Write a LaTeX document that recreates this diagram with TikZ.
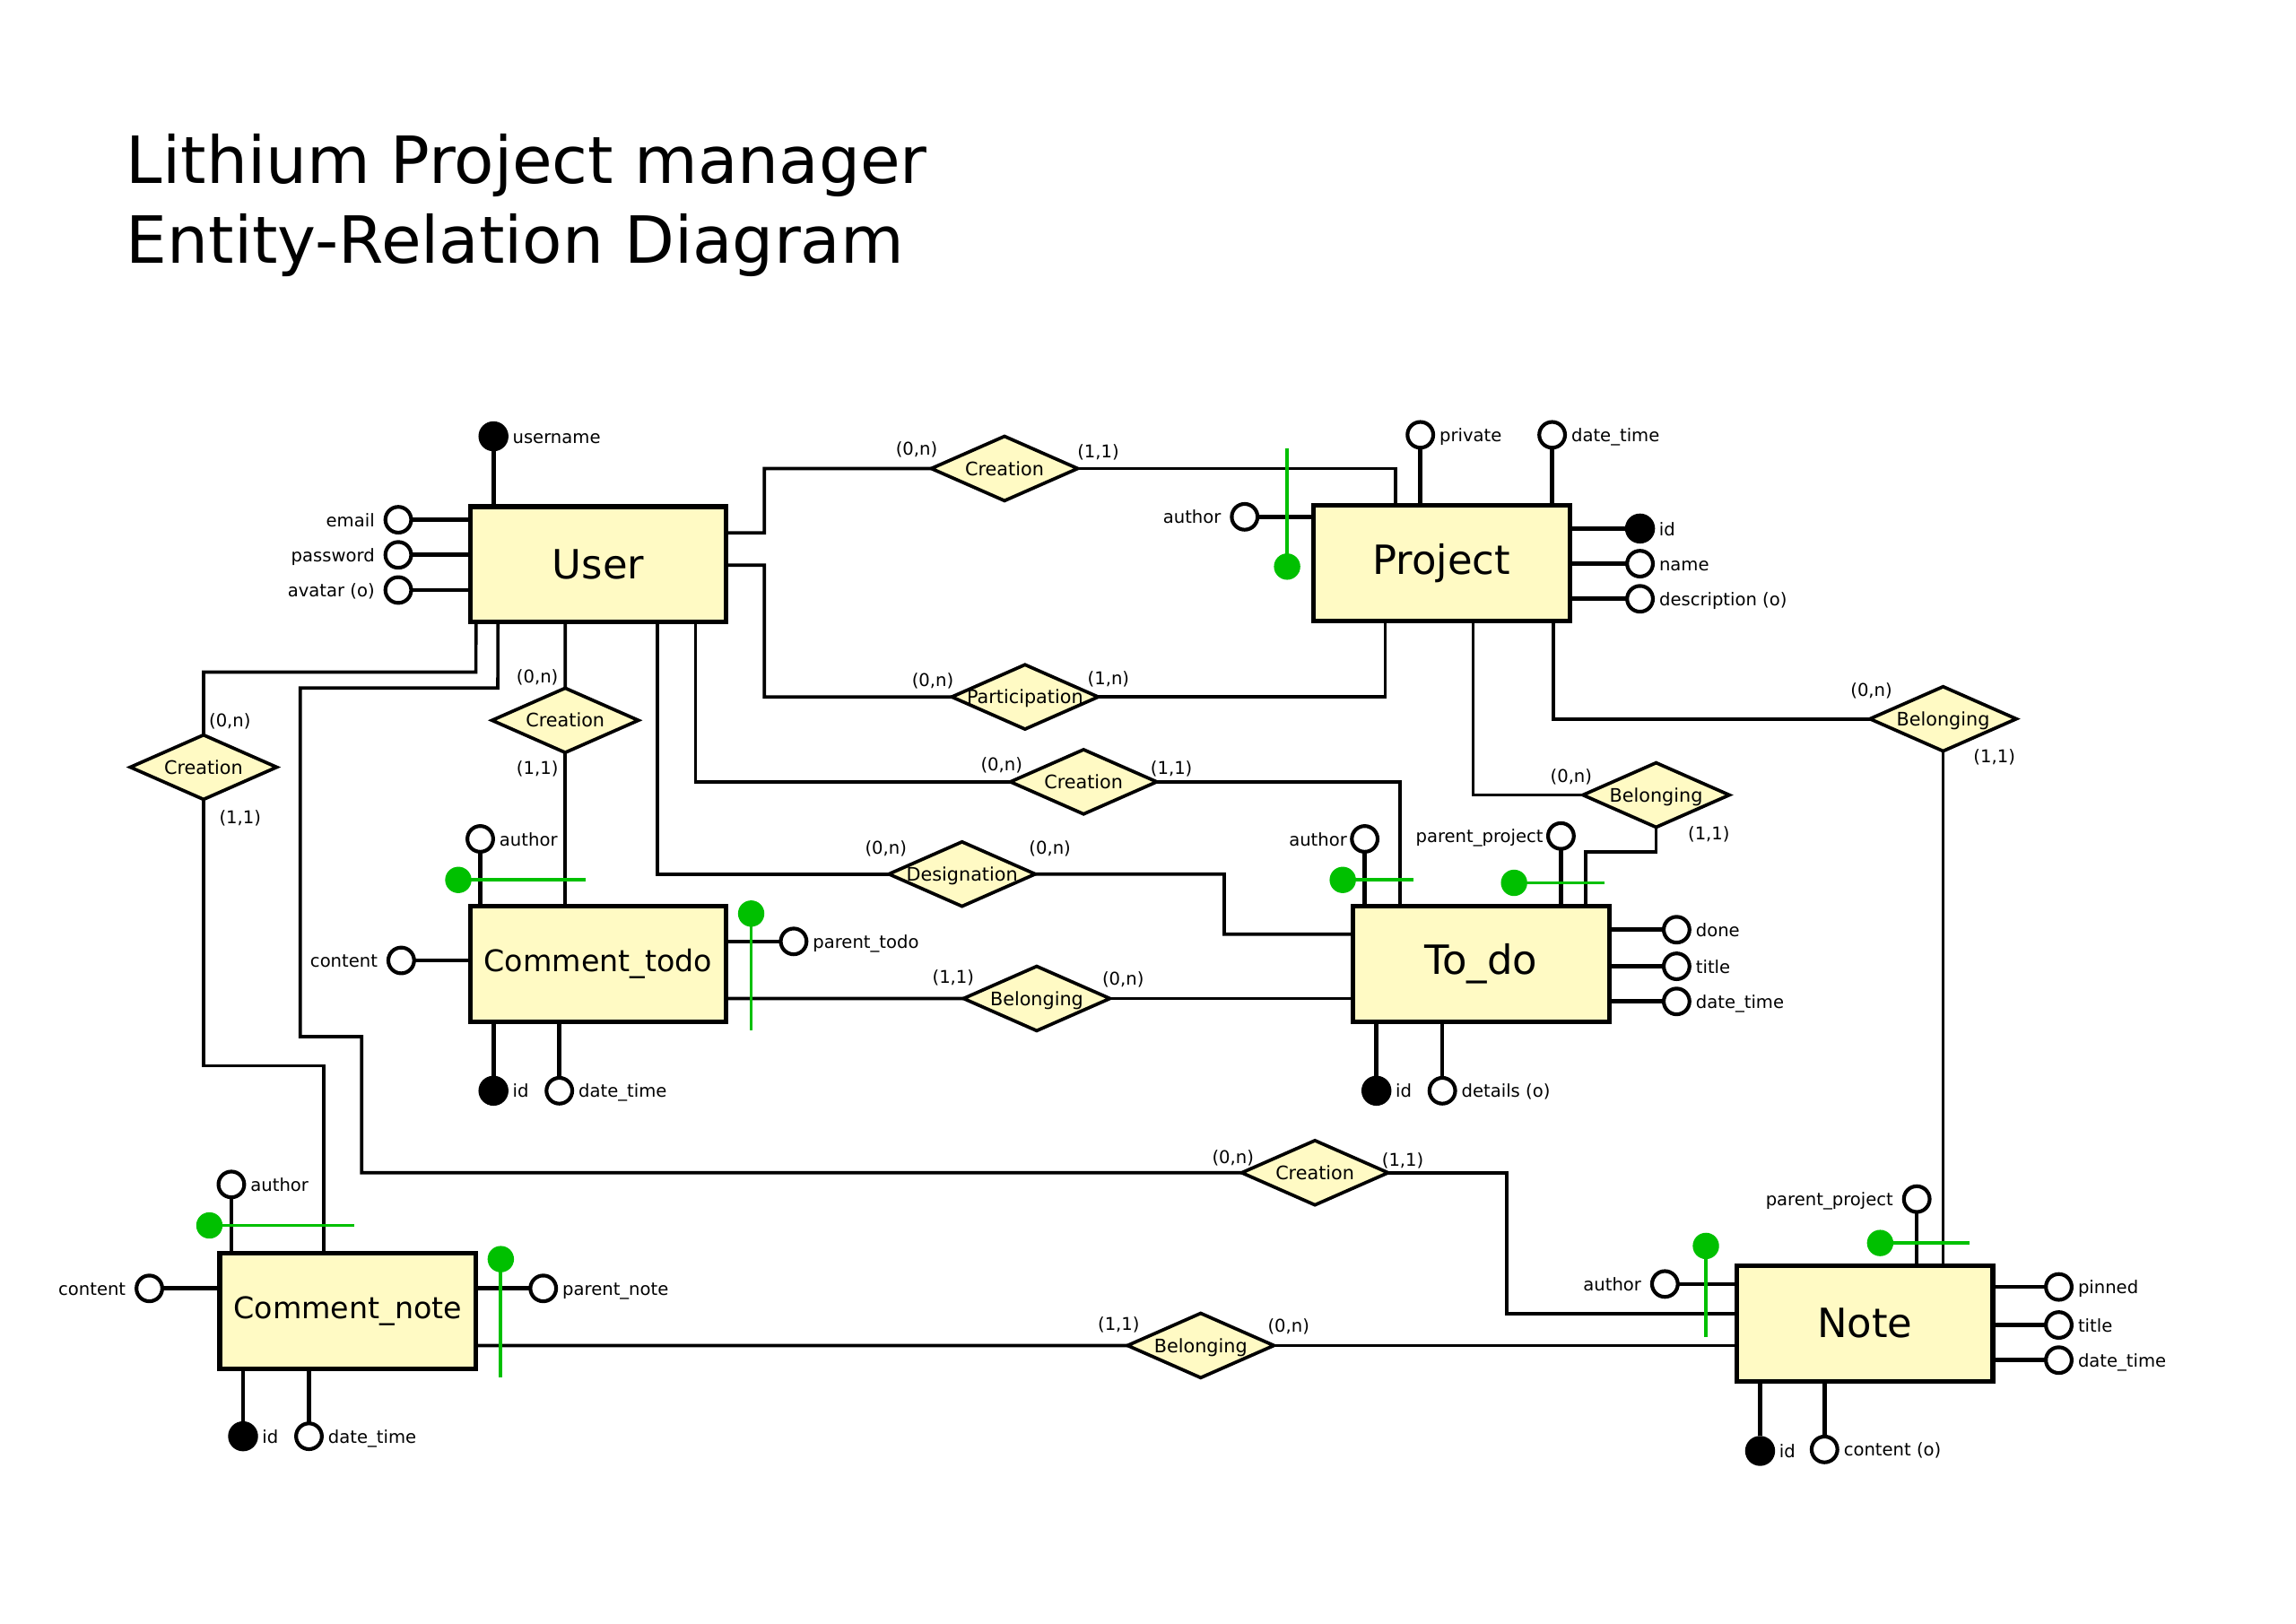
\documentclass[tikz,border=0pt]{standalone}
\usepackage{fontspec}
\setmainfont{DejaVu Sans}
\usetikzlibrary{shapes.geometric,calc}
\definecolor{entfill}{RGB}{255,250,196}
\definecolor{pkgreen}{RGB}{0,192,0}
\begin{document}
\begin{tikzpicture}[x=0.02cm,y=-0.02cm,
  conn/.style={line width=1.3pt},
  attl/.style={line width=1.6pt},
  entity/.style={draw,fill=entfill,line width=1.8pt,minimum width=3.5cm,minimum height=1.58cm,inner sep=0pt,outer sep=0pt,font=\fontsize{15.65}{18}\selectfont},
  cent/.style={entity,font=\fontsize{11.6}{14}\selectfont},
  rel/.style={diamond,draw,fill=entfill,line width=1.3pt,minimum width=2cm,minimum height=0.88cm,inner sep=0pt,outer sep=0pt,label={[relfont]center:#1}},
  relfont/.style={font=\fontsize{7.23}{8.5}\selectfont,inner sep=0pt,text height=0.75em,text depth=0.22em},
  lbl/.style={font=\fontsize{6.83}{8}\selectfont,inner sep=0pt,text height=0.75em,text depth=0.22em},
  attro/.style={circle,draw,fill=white,line width=1.45pt,minimum size=0.352cm,inner sep=0pt,outer sep=0pt},
  pkey/.style={circle,fill=black,minimum size=0.41cm,inner sep=0pt,outer sep=0pt},
  labr/.style={label={[lbl,xshift=0.08cm]right:#1}},
  labk/.style={label={[lbl,xshift=0.05cm]right:#1}},
  labl/.style={label={[lbl,xshift=-0.14cm]left:#1}},
  labln/.style={label={[lbl,xshift=-0.06cm]left:#1}},
  card/.style={lbl},
  grn/.style={draw=pkgreen,line width=1.35pt},
]
\fill[white] (0,0) rectangle (1568,1109);
\useasboundingbox (0,0) rectangle (1568,1109);

% title
\node[anchor=base west,inner sep=0pt,font=\fontsize{25.3}{30}\selectfont] (title1) at (86,125) {Lithium Project manager};
\node[anchor=base west,inner sep=0pt,font=\fontsize{25.3}{30}\selectfont] (title2) at (86,180) {Entity-Relation Diagram};

% entities
\node[entity] (User) at (408.5,385.5) {User};
\node[entity] (Project) at (984.5,384.5) {Project};
\node[cent] (CT) at (408.5,658.5) {Comment\_todo};
\node[entity] (TD) at (1011.5,658.5) {To\_do};
\node[cent] (CN) at (237.5,895.5) {Comment\_note};
\node[entity] (Note) at (1273.5,904) {Note};

% relations
\node[rel=Creation] (rc1) at (686,320) {};
\node[rel=Participation] (rp) at (700,476) {};
\node[rel=Creation] (rc2) at (740,534) {};
\node[rel=Designation] (rd) at (657,597) {};
\node[rel=Belonging] (rb1) at (708,682) {};
\node[rel=Creation] (rc3) at (386,492) {};
\node[rel=Creation] (rc4) at (139,524) {};
\node[rel=Belonging] (rb2) at (1327,491) {};
\node[rel=Belonging] (rb3) at (1131,543) {};
\node[rel=Creation] (rc5) at (898,801) {};
\node[rel=Belonging] (rb4) at (820,919) {};

% connectors
\draw[conn] ($(User.north east)+(0,18)$) -- (522,364) -- (522,320) -- (rc1.west);
\draw[conn] (rc1.east) -| ($(Project.north west)+(56,0)$);
\draw[conn] ($(User.north east)+(0,40)$) -- (522,386) -- (522,476) -- (rp.west);
\draw[conn] (rp.east) -| ($(Project.south west)+(49,0)$);
\draw[conn] ($(User.south west)+(154,0)$) |- (rc2.west);
\draw[conn] (rc2.east) -| ($(TD.north west)+(32,0)$);
\draw[conn] ($(User.south west)+(128,0)$) |- (rd.west);
\draw[conn] (rd.east) -| (836,638) -- ($(TD.north west)+(0,19)$);
\draw[conn] ($(CT.north east)+(0,63)$) -- (rb1.west);
\draw[conn] (rb1.east) -- (rb1.east -| TD.west);
\draw[conn] ($(User.south west)+(65,0)$) -- (rc3.north);
\draw[conn] (rc3.south) -- (rc3.south |- CT.north);
\draw[conn] ($(User.south west)+(4,0)$) -- (325,459) -| (rc4.north);
\draw[conn] (rc4.south) -- (139,728) -| ($(CN.north west)+(71,0)$);
\draw[conn] ($(User.south west)+(19,0)$) -- (340,470) -- (205,470) -- (205,708) -- (247,708) |- (rc5.west);
\draw[conn] (rc5.east) -- (1029,801) |- ($(Note.north west)+(0,33)$);
\draw[conn] ($(CN.north east)+(0,63)$) -- (rb4.west);
\draw[conn] (rb4.east) -- (rb4.east -| Note.west);
\draw[conn] ($(Project.south west)+(109,0)$) |- (rb3.west);
\draw[conn] (rb3.south) -- (1131,582) -| ($(TD.north west)+(159,0)$);
\draw[conn] ($(Project.south west)+(164,0)$) |- (rb2.west);
\draw[conn] (rb2.south) -- (rb2.south |- Note.north);

% cardinalities
\node[card] (k1) at (626,306) {(0,n)};
\node[card] (k2) at (750,308) {(1,1)};
\node[card] (k3) at (637,464) {(0,n)};
\node[card] (k4) at (757,463) {(1,n)};
\node[card] (k5) at (684,522) {(0,n)};
\node[card] (k6) at (800,524) {(1,1)};
\node[card] (k7) at (605,579) {(0,n)};
\node[card] (k8) at (717,579) {(0,n)};
\node[card] (k9) at (651,667) {(1,1)};
\node[card] (k10) at (767,668) {(0,n)};
\node[card] (k11) at (367,462) {(0,n)};
\node[card] (k12) at (367,524) {(1,1)};
\node[card] (k13) at (157,492) {(0,n)};
\node[card] (k14) at (164,558) {(1,1)};
\node[card] (k15) at (1278,471) {(0,n)};
\node[card] (k16) at (1362,516) {(1,1)};
\node[card] (k17) at (1073,530) {(0,n)};
\node[card] (k18) at (1167,569) {(1,1)};
\node[card] (k19) at (842,790) {(0,n)};
\node[card] (k20) at (958,792) {(1,1)};
\node[card] (k21) at (764,904) {(1,1)};
\node[card] (k22) at (880,905) {(0,n)};

% User attributes
\node[pkey,labk=username] (ua1) at (337,298) {};
\draw[attl] (ua1) -- (ua1 |- User.north);
\node[attro,labl=email] (ua2) at (272,355) {};
\node[attro,labl=password] (ua3) at (272,379) {};
\node[attro,labl={avatar (o)}] (ua4) at (272,403) {};
\foreach \a in {ua2,ua3,ua4} \draw[attl] (\a.east) -- (\a -| User.west);

% Project attributes
\node[attro,labl=author] (pa1) at (850,353) {};
\draw[attl] (pa1.east) -- (pa1 -| Project.west);
\node[attro,labr=private] (pa2) at (970,297) {};
\node[attro,labr=date\_time] (pa3) at (1060,297) {};
\foreach \a in {pa2,pa3} \draw[attl] (\a.south) -- (\a |- Project.north);
\node[pkey,labk=id] (pa4) at (1120,361) {};
\draw[attl] (pa4) -- (pa4 -| Project.east);
\node[attro,labr=name] (pa5) at (1120,385) {};
\node[attro,labr={description (o)}] (pa6) at (1120,409) {};
\foreach \a in {pa5,pa6} \draw[attl] (\a.west) -- (\a -| Project.east);

% Comment_todo attributes
\node[attro,labr=author] (ca1) at (328,573) {};
\draw[attl] (ca1.south) -- (ca1 |- CT.north);
\node[attro,labl=content] (ca2) at (274,656) {};
\draw[attl] (ca2.east) -- (ca2 -| CT.west);
\node[attro,labr=parent\_todo] (ca3) at (542,643) {};
\draw[attl] (ca3.west) -- (ca3 -| CT.east);
\node[pkey,labk=id] (ca4) at (337,745) {};
\draw[attl] (ca4) -- (ca4 |- CT.south);
\node[attro,labr=date\_time] (ca5) at (382,745) {};
\draw[attl] (ca5.north) -- (ca5 |- CT.south);

% To_do attributes
\node[attro,labln=author] (ta1) at (932,573) {};
\node[attro,labln=parent\_project] (ta2) at (1066,571) {};
\foreach \a in {ta1,ta2} \draw[attl] (\a.south) -- (\a |- TD.north);
\node[attro,labr=done] (ta3) at (1145,635) {};
\node[attro,labr=title] (ta4) at (1145,660) {};
\node[attro,labr=date\_time] (ta5) at (1145,684) {};
\foreach \a in {ta3,ta4,ta5} \draw[attl] (\a.west) -- (\a -| TD.east);
\node[pkey,labk=id] (ta6) at (940,745) {};
\draw[attl] (ta6) -- (ta6 |- TD.south);
\node[attro,labr={details (o)}] (ta7) at (985,745) {};
\draw[attl] (ta7.north) -- (ta7 |- TD.south);

% Comment_note attributes
\node[attro,labr=author] (na1) at (158,809) {};
\draw[attl] (na1.south) -- (na1 |- CN.north);
\node[attro,labl=content] (na2) at (102,880) {};
\draw[attl] (na2.east) -- (na2 -| CN.west);
\node[attro,labr=parent\_note] (na3) at (371,880) {};
\draw[attl] (na3.west) -- (na3 -| CN.east);
\node[pkey,labk=id] (na4) at (166,981) {};
\draw[attl] (na4) -- (na4 |- CN.south);
\node[attro,labr=date\_time] (na5) at (211,981) {};
\draw[attl] (na5.north) -- (na5 |- CN.south);

% Note attributes
\node[attro,labl=author] (ea1) at (1137,877) {};
\draw[attl] (ea1.east) -- (ea1 -| Note.west);
\node[attro,labl=parent\_project] (ea2) at (1309,819) {};
\draw[attl] (ea2.south) -- (ea2 |- Note.north);
\node[attro,labr=pinned] (ea3) at (1406,879) {};
\node[attro,labr=title] (ea4) at (1406,905) {};
\node[attro,labr=date\_time] (ea5) at (1406,929) {};
\foreach \a in {ea3,ea4,ea5} \draw[attl] (\a.west) -- (\a -| Note.east);
\node[pkey,labk=id] (ea6) at (1202,991) {};
\draw[attl] (ea6) -- (ea6 |- Note.south);
\node[attro,labr={content (o)}] (ea7) at (1246,990) {};
\draw[attl] (ea7.north) -- (ea7 |- Note.south);

% green foreign-key marks
\draw[grn] (879,306) -- (879,387);
\fill[pkgreen] (879,387) circle (0.18cm);
\draw[grn] (313,601) -- (400,601);
\fill[pkgreen] (313,601) circle (0.18cm);
\draw[grn] (513,624) -- (513,704);
\fill[pkgreen] (513,624) circle (0.18cm);
\draw[grn] (917,601) -- (965,601);
\fill[pkgreen] (917,601) circle (0.18cm);
\draw[grn] (1034,603) -- (1096,603);
\fill[pkgreen] (1034,603) circle (0.18cm);
\draw[grn] (143,837) -- (242,837);
\fill[pkgreen] (143,837) circle (0.18cm);
\draw[grn] (342,860) -- (342,941);
\fill[pkgreen] (342,860) circle (0.18cm);
\draw[grn] (1165,851) -- (1165,913);
\fill[pkgreen] (1165,851) circle (0.18cm);
\draw[grn] (1284,849) -- (1345,849);
\fill[pkgreen] (1284,849) circle (0.18cm);
\end{tikzpicture}
\end{document}
